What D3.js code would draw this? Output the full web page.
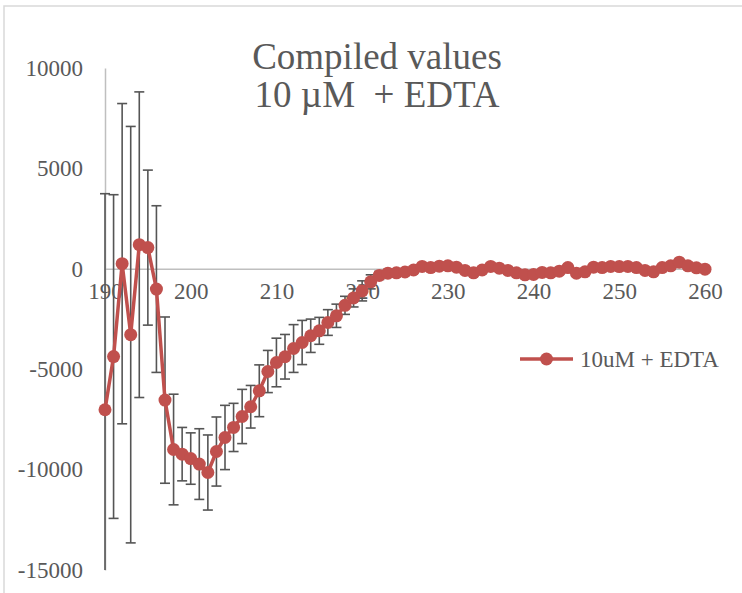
<!DOCTYPE html>
<html>
<head>
<meta charset="utf-8">
<title>Compiled values 10 µM + EDTA</title>
<script src="https://d3js.org/d3.v7.min.js"></script>
<style>
body { margin: 0; background: #fff; }
svg text { font-family: "Liberation Serif", "Times New Roman", serif; fill: #595959; }
</style>
</head>
<body>
<script>
// wavelength (nm), 190..260
var wavelengths = d3.range(190, 261);

// mean signal per wavelength
var meanValues = [
  -7020, -4370, 255, -3280, 1200, 1055, -1010, -6540, -9000, -9230,
  -9450, -9725, -10145, -9100, -8400, -7900, -7355, -6870, -6075, -5115,
  -4665, -4380, -3970, -3670, -3335, -3090, -2675, -2340, -1820, -1450,
  -1100, -650, -330, -220, -200, -160, -60, 120, 60, 130,
  150, 80, -80, -200, -60, 120, 30, -80, -200, -300,
  -280, -180, -200, -120, 60, -220, -150, 80, 60, 120,
  110, 120, 60, -80, -150, 60, 150, 330, 150, 50,
  -20
];

// error bar half-widths
var errValues = [
  10760, 8060, 7975, 10370, 7610, 3860, 4150, 4140, 2755, 1330,
  1280, 1760, 1870, 1720, 1600, 1200, 1350, 1060, 1290, 1050,
  1210, 1110, 1190, 1100, 830, 670, 640, 580, 450, 450,
  500, 350, 200, 180, 160, 150, 150, 140, 150, 150,
  140, 150, 140, 150, 140, 150, 140, 150, 150, 140,
  150, 140, 150, 140, 150, 140, 150, 140, 150, 140,
  150, 140, 150, 140, 150, 140, 150, 140, 150, 140,
  140
];

var xTicks = [190, 200, 210, 220, 230, 240, 250, 260];
var yTicks = [10000, 5000, 0, -5000, -10000, -15000];
var titleLines = ["Compiled values", "10 µM  + EDTA"];
var seriesName = "10uM + EDTA";

var data = wavelengths.map(function(w, i) {
  return {x: w, y: meanValues[i], e: errValues[i]};
});

var W = 742, H = 593;
var red = "#c0504d";
var plain = function(d) { return String(d); };  // keep hyphen minus like the original

var svg = d3.select("body").append("svg")
  .attr("width", W)
  .attr("height", H);

// chart area border (runs off the right/bottom edge)
svg.append("rect")
  .attr("x", 4).attr("y", 6)
  .attr("width", W + 10).attr("height", H + 10)
  .attr("fill", "none")
  .attr("stroke", "#d9d9d9")
  .attr("stroke-width", 1.5);

var x = d3.scaleLinear().domain([190, 260]).range([105, 705]);
var y = d3.scaleLinear().domain([-15000, 10000]).range([570, 68]);

svg.append("clipPath").attr("id", "plot")
  .append("rect")
  .attr("x", 90).attr("y", y(10000))
  .attr("width", 640).attr("height", y(-15000) - y(10000));

// title
svg.append("text")
  .attr("text-anchor", "middle")
  .attr("xml:space", "preserve")
  .style("font-size", "37px")
  .style("white-space", "pre")
  .selectAll("tspan")
  .data(titleLines).enter()
  .append("tspan")
  .attr("x", 377)
  .attr("y", function(d, i) { return 69 + i * 38; })
  .text(function(d) { return d; });

// y axis
var yAxis = svg.append("g")
  .attr("transform", "translate(" + x(190) + ",0)")
  .call(d3.axisLeft(y).tickValues(yTicks).tickSize(0).tickPadding(22).tickFormat(plain));
yAxis.select(".domain").attr("stroke", "#bfbfbf").attr("stroke-width", 1.5);
yAxis.selectAll("text").style("font-size", "23px").attr("fill", "#595959");

// x axis, crossing at 0
var xAxis = svg.append("g")
  .attr("transform", "translate(0," + y(0) + ")")
  .call(d3.axisBottom(x).tickValues(xTicks).tickSize(0).tickPadding(14).tickFormat(plain));
xAxis.select(".domain").attr("stroke", "#bfbfbf").attr("stroke-width", 1.5);
xAxis.selectAll("text").style("font-size", "23px").attr("fill", "#595959");

var plot = svg.append("g").attr("clip-path", "url(#plot)");

// error bars
var bars = plot.append("g")
  .attr("stroke", "#555")
  .attr("stroke-width", 1.6)
  .selectAll("g")
  .data(data).enter().append("g");

bars.append("line")
  .attr("x1", function(d) { return x(d.x); })
  .attr("x2", function(d) { return x(d.x); })
  .attr("y1", function(d) { return y(d.y + d.e); })
  .attr("y2", function(d) { return y(d.y - d.e); });

bars.append("line")
  .attr("x1", function(d) { return x(d.x) - 5; })
  .attr("x2", function(d) { return x(d.x) + 5; })
  .attr("y1", function(d) { return y(d.y + d.e); })
  .attr("y2", function(d) { return y(d.y + d.e); });

bars.append("line")
  .attr("x1", function(d) { return x(d.x) - 5; })
  .attr("x2", function(d) { return x(d.x) + 5; })
  .attr("y1", function(d) { return y(d.y - d.e); })
  .attr("y2", function(d) { return y(d.y - d.e); });

// series line + markers
var line = d3.line()
  .x(function(d) { return x(d.x); })
  .y(function(d) { return y(d.y); });

plot.append("path")
  .datum(data)
  .attr("d", line)
  .attr("fill", "none")
  .attr("stroke", red)
  .attr("stroke-width", 3.5)
  .attr("stroke-linejoin", "round");

plot.selectAll("circle")
  .data(data).enter()
  .append("circle")
  .attr("cx", function(d) { return x(d.x); })
  .attr("cy", function(d) { return y(d.y); })
  .attr("r", 6.5)
  .attr("fill", red);

// legend
var legend = svg.append("g").attr("transform", "translate(520,359)");
legend.append("line")
  .attr("x1", 0).attr("x2", 53)
  .attr("stroke", red).attr("stroke-width", 3.5);
legend.append("circle")
  .attr("cx", 26.5).attr("r", 6.5).attr("fill", red);
legend.append("text")
  .attr("x", 60).attr("y", 8)
  .style("font-size", "23px")
  .text(seriesName);
</script>
</body>
</html>
